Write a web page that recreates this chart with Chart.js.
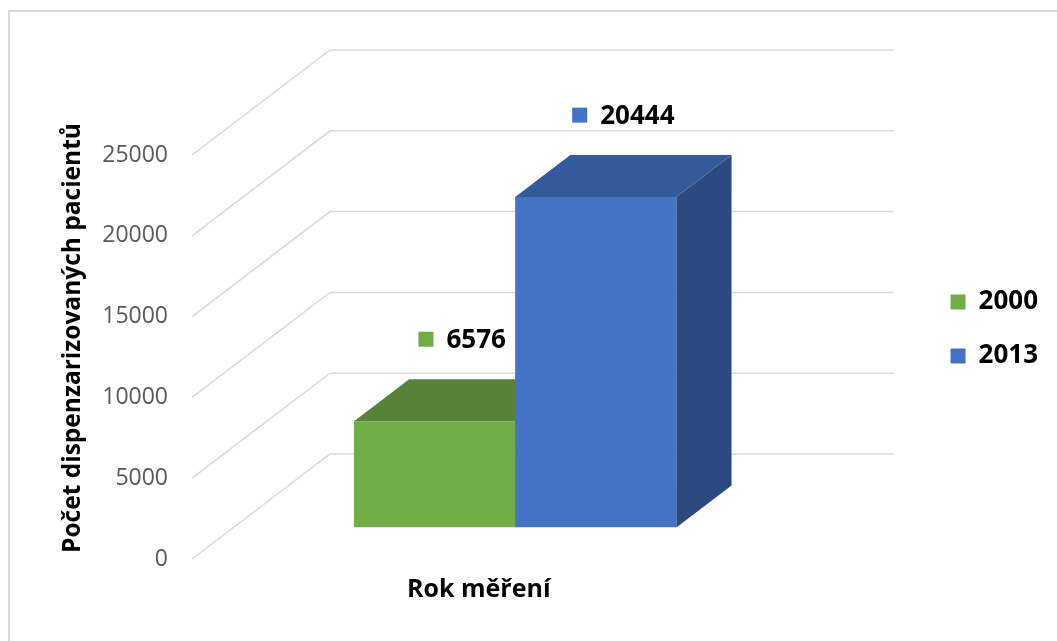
<!DOCTYPE html>
<html lang="cs">
<head>
<meta charset="utf-8">
<title>Počet dispenzarizovaných pacientů</title>
<script src="https://cdn.jsdelivr.net/npm/chart.js@4.4.1/dist/chart.umd.min.js"></script>
<style>
    html, body { margin: 0; padding: 0; background: #fff; }
    #wrap { position: relative; width: 1057px; height: 641px; }
</style>
</head>
<body>
<div id="wrap"><canvas id="pacientiChart"></canvas></div>
<script>
// Data
const categories = [''];
const years = ['2000', '2013'];
const patients = [6576, 20444];
const yMin = 0;
const yMax = 25000;
const yStep = 5000;

// Barvy sloupců (čelo, vršek, bok)
const frontColors = ['#70AD47', '#4472C4'];
const topColors = ['#58823A', '#335A9A'];
const sideColors = ['#4A6D2C', '#2C4A80'];

// Perspektiva: hloubka podlahy a posun přední hrany vůči chartArea
const DEPTH = { x: 138, y: -105 };
const FRONT = { x: -5, y: 19 };
const BAR_NEAR = 0.3;
const BAR_FAR = 0.7;

const FONT = '"Open Sans", "DejaVu Sans", sans-serif';

// Mřížka, 3D kvádry a popisky
const fake3d = {
    id: 'fake3d',
    beforeDraw(chart) {
        const ctx = chart.ctx;
        ctx.save();
        ctx.strokeStyle = '#D9D9D9';
        ctx.lineWidth = 2;
        ctx.strokeRect(9, 11, chart.width, chart.height);
        ctx.restore();
    },
    beforeDatasetsDraw(chart) {
        const { ctx, chartArea, scales } = chart;
        const y = scales.y;

        // boční stěna + zadní stěna
        ctx.save();
        ctx.strokeStyle = '#D9D9D9';
        ctx.lineWidth = 1.5;
        y.ticks.forEach(t => {
            const py = y.getPixelForValue(t.value) + FRONT.y;
            const x0 = chartArea.left + FRONT.x;
            ctx.beginPath();
            ctx.moveTo(x0, py);
            ctx.lineTo(x0 + DEPTH.x, py + DEPTH.y);
            ctx.lineTo(chartArea.right + FRONT.x + DEPTH.x, py + DEPTH.y);
            ctx.stroke();
        });
        ctx.restore();

        // sloupce se kreslí o kus dál od diváka
        ctx.save();
        ctx.translate(FRONT.x + BAR_NEAR * DEPTH.x, FRONT.y + BAR_NEAR * DEPTH.y);
        const dx = (BAR_FAR - BAR_NEAR) * DEPTH.x;
        const dy = (BAR_FAR - BAR_NEAR) * DEPTH.y;
        chart.data.datasets.forEach((ds, i) => {
            chart.getDatasetMeta(i).data.forEach(bar => {
                const { x, y: top, base, width } = bar.getProps(['x', 'y', 'base', 'width'], true);
                const l = x - width / 2;
                const r = x + width / 2;
                ctx.fillStyle = sideColors[i];
                ctx.beginPath();
                ctx.moveTo(r, top);
                ctx.lineTo(r + dx, top + dy);
                ctx.lineTo(r + dx, base + dy);
                ctx.lineTo(r, base);
                ctx.closePath();
                ctx.fill();
                ctx.fillStyle = topColors[i];
                ctx.beginPath();
                ctx.moveTo(l, top);
                ctx.lineTo(r, top);
                ctx.lineTo(r + dx, top + dy);
                ctx.lineTo(l + dx, top + dy);
                ctx.closePath();
                ctx.fill();
            });
        });
        // čela sloupců dokreslí Chart.js v tomto posunutém souřadnicovém systému
    },
    afterDatasetsDraw(chart) {
        const ctx = chart.ctx;
        ctx.restore();

        const ox = FRONT.x + (BAR_NEAR + BAR_FAR) / 2 * DEPTH.x;
        const oy = FRONT.y + (BAR_NEAR + BAR_FAR) / 2 * DEPTH.y;
        ctx.save();
        ctx.font = 'bold 26px ' + FONT;
        ctx.textBaseline = 'middle';
        ctx.textAlign = 'left';
        chart.data.datasets.forEach((ds, i) => {
            chart.getDatasetMeta(i).data.forEach((bar, j) => {
                const text = String(ds.data[j]);
                const tw = ctx.measureText(text).width;
                const box = 15, gap = 13;
                const cx = bar.x + ox;
                const cy = bar.y + oy - 61;
                const x0 = cx - (box + gap + tw) / 2;
                ctx.fillStyle = frontColors[i];
                ctx.fillRect(x0, cy - box / 2, box, box);
                ctx.fillStyle = '#000';
                ctx.fillText(text, x0 + box + gap, cy + 1);
            });
        });
        ctx.restore();
    }
};

new Chart(document.getElementById('pacientiChart'), {
    type: 'bar',
    data: {
        labels: categories,
        datasets: years.map((year, i) => ({
            label: year,
            data: [patients[i]],
            backgroundColor: frontColors[i],
            borderWidth: 0
        }))
    },
    options: {
        responsive: true,
        maintainAspectRatio: false,
        animation: false,
        events: [],
        datasets: {
            bar: { categoryPercentage: 0.572, barPercentage: 1 }
        },
        layout: {
            padding: { left: 58, right: 9, top: 136, bottom: 36 }
        },
        scales: {
            x: {
                grid: { display: false, drawTicks: false },
                border: { display: false },
                ticks: { display: false },
                title: {
                    display: true,
                    text: 'Rok měření',
                    color: '#000',
                    font: { family: FONT, size: 25, weight: 'bold' },
                    padding: { top: 35, bottom: 0 }
                }
            },
            y: {
                min: yMin,
                max: yMax,
                grid: { display: false, drawTicks: false },
                border: { display: false },
                ticks: {
                    stepSize: yStep,
                    format: { useGrouping: false },
                    padding: 29,
                    labelOffset: 19,
                    color: '#595959',
                    font: { family: FONT, size: 23 }
                },
                title: {
                    display: true,
                    text: 'Počet dispenzarizovaných pacientů',
                    color: '#000',
                    font: { family: FONT, size: 24.5, weight: 'bold' },
                    padding: 0
                },
                afterFit(scale) { scale.width = 139; }
            },
            // prázdné místo mezi zadní stěnou a legendou
            gap: {
                type: 'linear',
                position: 'right',
                grid: { display: false, drawTicks: false },
                border: { display: false },
                ticks: { display: false },
                afterFit(scale) { scale.width = 162; }
            }
        },
        plugins: {
            tooltip: { enabled: false },
            legend: {
                position: 'right',
                align: 'start',
                fullSize: false,
                title: {
                    display: true,
                    text: '',
                    font: { size: 10 },
                    padding: { top: 113, bottom: 0 }
                },
                labels: {
                    color: '#000',
                    font: { family: FONT, size: 26, weight: 'bold' },
                    boxWidth: 15,
                    boxHeight: 15,
                    padding: 28
                }
            }
        }
    },
    plugins: [fake3d]
});
</script>
</body>
</html>
